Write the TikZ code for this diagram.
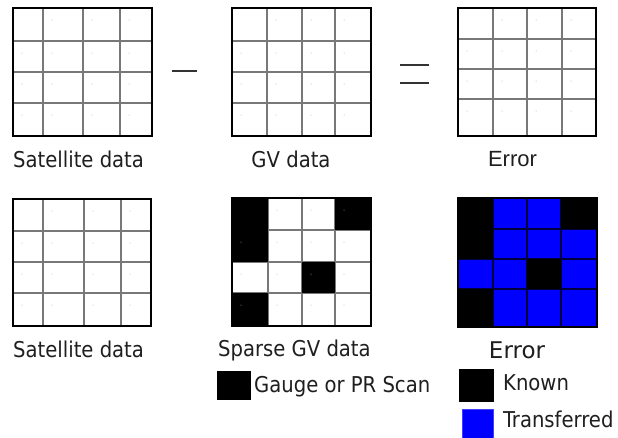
\documentclass[tikz,border=0pt]{standalone}
\usepackage{fontspec}
\newfontfamily\dvc{DejaVu Sans Condensed}
\newfontfamily\dvs{DejaVu Sans}
\newfontfamily\lib{Liberation Sans}
\definecolor{gridgray}{RGB}{120,120,120}
\definecolor{navyline}{RGB}{0,0,60}
\definecolor{dotgray}{RGB}{170,170,170}
\tikzset{
  gridline/.style={draw=gridgray, line width=1.2pt},
  border/.style={draw=black, line width=2.2pt},
  lbl/.style={inner sep=0pt, anchor=base west, font=\dvc\fontsize{21.8}{24}\selectfont, text=black!88},
  opsign/.style={draw=black!80, line width=1.5pt},
}
\newcommand\celldots[2]{%
  \foreach \xx [count=\ii] in {#1} {\foreach \yy [count=\jj] in {#2} {%
    \ifnum\numexpr\ii+\jj\relax>2 \fill[dotgray] (\xx+9,\yy+12) circle (0.5);\fi}}}
\begin{document}
\begin{tikzpicture}[x=1pt,y=-1pt]
\useasboundingbox (0,0) rectangle (618,437);
\fill[white] (0,0) rectangle (618,437);

% ---------- Grid 1: Satellite data (top)
\draw[gridline] foreach \x in {43,83,120} {(\x,8)--(\x,136)} foreach \y in {41,72,103} {(13,\y)--(152,\y)};
\celldots{13,43,83,120}{8,41,72,103}
\draw[border] (13,8) rectangle (152,136);
\node[lbl] (sat1) at (13,167) {Satellite data};

% minus
\coordinate (m1) at (172,71); \coordinate (m2) at (197,71);
\draw[opsign] (m1) -- (m2);

% ---------- Grid 2: GV data
\draw[gridline] foreach \x in {267,302,335} {(\x,8)--(\x,136)} foreach \y in {41,72,103} {(232,\y)--(371,\y)};
\celldots{232,267,302,335}{8,41,72,103}
\draw[border] (232,8) rectangle (371,136);
\node[lbl, anchor=base] (gv) at (291,167) {GV data};

% equals
\coordinate (e1) at (400,65); \coordinate (e2) at (429,65);
\coordinate (e3) at (400,83); \coordinate (e4) at (429,83);
\draw[opsign] (e1) -- (e2) (e3) -- (e4);

% ---------- Grid 3: Error (top)
\draw[gridline] foreach \x in {493,527,562} {(\x,8)--(\x,136)} foreach \y in {39,69,99} {(458,\y)--(596,\y)};
\celldots{458,493,527,562}{8,39,69,99}
\draw[border] (458,8) rectangle (596,136);
\node[lbl, anchor=base, font=\lib\fontsize{22}{24}\selectfont] (err1) at (512.5,166) {Error};

% ---------- Grid 4: Satellite data (bottom)
\draw[gridline] foreach \x in {43,84,121} {(\x,199)--(\x,326)} foreach \y in {231,262,293} {(13,\y)--(151,\y)};
\celldots{13,43,84,121}{199,231,262,293}
\draw[border] (13,199) rectangle (151,326);
\node[lbl] (sat2) at (13,357) {Satellite data};

% ---------- Grid 5: Sparse GV data
\draw[gridline] foreach \x in {268,302,335} {(\x,198)--(\x,326)} foreach \y in {230,262,293} {(232,\y)--(371,\y)};
\fill[black] (232,198) rectangle (268,262);
\fill[black] (335,198) rectangle (371,230);
\fill[black] (302,262) rectangle (335,293);
\fill[black] (232,293) rectangle (268,326);
\celldots{232,268,302,335}{198,230,262,293}
\draw[border] (232,198) rectangle (371,326);
\node[lbl] (sparse) at (218,356) {Sparse GV data};

% legend: gauge
\node[fill=black, minimum width=34pt, minimum height=29pt, inner sep=0pt, anchor=north west] (gsq) at (217,371) {};
\node[lbl] (gauge) at (254,392) {Gauge or PR Scan};

% ---------- Grid 6: Error (bottom)
\fill[blue] (458,198) rectangle (597,327);
\draw[navyline, line width=1.2pt] foreach \x in {493,527,561} {(\x,198)--(\x,327)} foreach \y in {229,259,289} {(458,\y)--(597,\y)};
\fill[black] (458,198) rectangle (493,259);
\fill[black] (561,198) rectangle (597,229);
\fill[black] (527,259) rectangle (561,289);
\fill[black] (458,289) rectangle (493,327);
\draw[border] (458,198) rectangle (597,327);
\node[lbl, anchor=base, font=\dvs\fontsize{23}{25}\selectfont] (err2) at (517,358) {Error};

% legend: known / transferred
\node[fill=black, minimum width=35pt, minimum height=33pt, inner sep=0pt, anchor=north west] (ksq) at (459,369) {};
\node[lbl] (known) at (503,390) {Known};
\node[fill=blue, draw=blue!75!white, line width=1pt, minimum width=31pt, minimum height=30pt, inner sep=0pt, anchor=north west] (tsq) at (461.5,408.5) {};
\node[lbl] (trans) at (503,427) {Transferred};
\end{tikzpicture}
\end{document}
